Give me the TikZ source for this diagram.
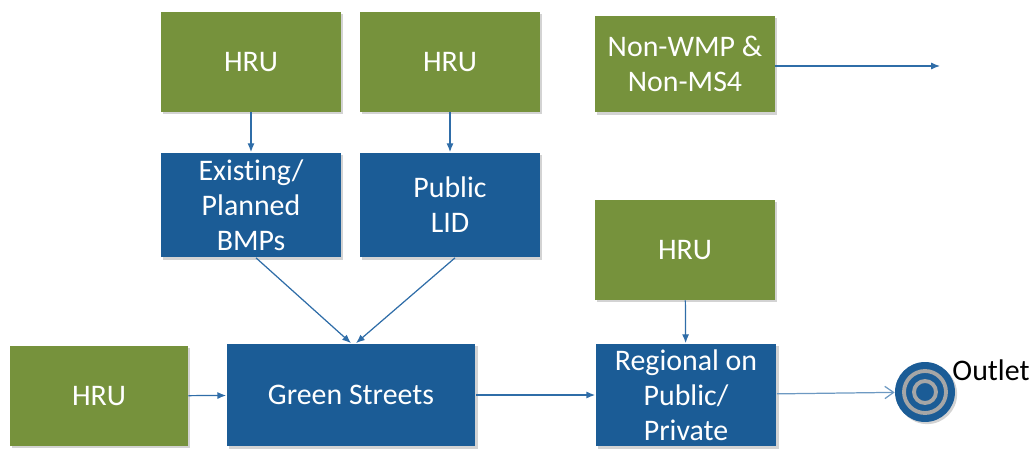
\documentclass[tikz,border=0pt]{standalone}
\usepackage{fontspec}
\setmainfont{Carlito}[Ligatures=NoCommon]
\usetikzlibrary{calc,shadows,arrows.meta}

\definecolor{hrugreen}{HTML}{76923C}
\definecolor{bmpblue}{HTML}{1B5C96}
\definecolor{flowblue}{HTML}{2F6DA8}
\definecolor{ringgray}{HTML}{A6A6A6}

\begin{document}
\begin{tikzpicture}[x=0.02cm,y=-0.02cm,
        hru/.style={fill=hrugreen,text=white,minimum width=3.6cm,minimum height=2cm,
            inner sep=0pt,align=center,font=\fontsize{17}{19.9}\selectfont,
            drop shadow={shadow xshift=1.2pt,shadow yshift=-1.2pt,opacity=0.35}},
        bmp/.style={hru,fill=bmpblue},
        flow/.style={draw=flowblue,line width=0.7pt,-{Latex[length=5pt,width=4pt]}}]
            \useasboundingbox (0,0) rectangle (1031,449);

            \node (A) at (251,62) [hru] {HRU};
            \node (B) at (450,62) [hru] {HRU};
            \node (C) at (685,64) [hru,minimum height=1.94cm] {Non-WMP \&\\Non-MS4};
            \node (D) at (251,205) [bmp,minimum height=2.1cm] {Existing/\\Planned\\BMPs};
            \node (E) at (450,205) [bmp,minimum height=2.1cm] {Public\\LID};
            \node (F) at (685,250) [hru] {HRU};
            \node (G) at (99,396) [hru,minimum width=3.56cm] {HRU};
            \node (H) at (351,395) [bmp,minimum width=4.98cm,minimum height=2.06cm] {Green Streets};
            \node (I) at (686,395) [bmp,minimum width=3.62cm,minimum height=2.06cm] {Regional on\\Public/\\Private};

            % outlet target
            \coordinate (O) at (925,392);
            \fill [bmpblue,drop shadow={shadow xshift=1.2pt,shadow yshift=-1.2pt,opacity=0.35}] (O) circle (0.6cm);
            \draw [ringgray,line width=2.2pt] (O) circle (0.42cm);
            \draw [ringgray,line width=2.2pt] (O) circle (0.22cm);
            \node (J) at (O) [circle,minimum size=1.2cm,inner sep=0pt] {};
            \node (K) at (991,370) [font=\fontsize{17}{19.9}\selectfont] {Outlet};

            \coordinate (C1) at (940,66);

            \draw [flow] (A) -- (D);
            \draw [flow] (B) -- (E);
            \draw [flow] (C.east |- C1) -- (C1);
            \draw [flow] (D.south) ++(5,0) -- ($(H.north) + (0,0)$);
            \draw [flow] (E.south) ++(5,0) -- ($(H.north) + (5,0)$);
            \draw [flow] (F) -- (I);
            \draw [flow] (G) -- (H);
            \draw [flow] (H) -- (I);
            \draw [draw=flowblue!70,line width=0.7pt,-{Straight Barb[length=5pt,width=7pt]}] (I) -- (J);

        \end{tikzpicture}
\end{document}
